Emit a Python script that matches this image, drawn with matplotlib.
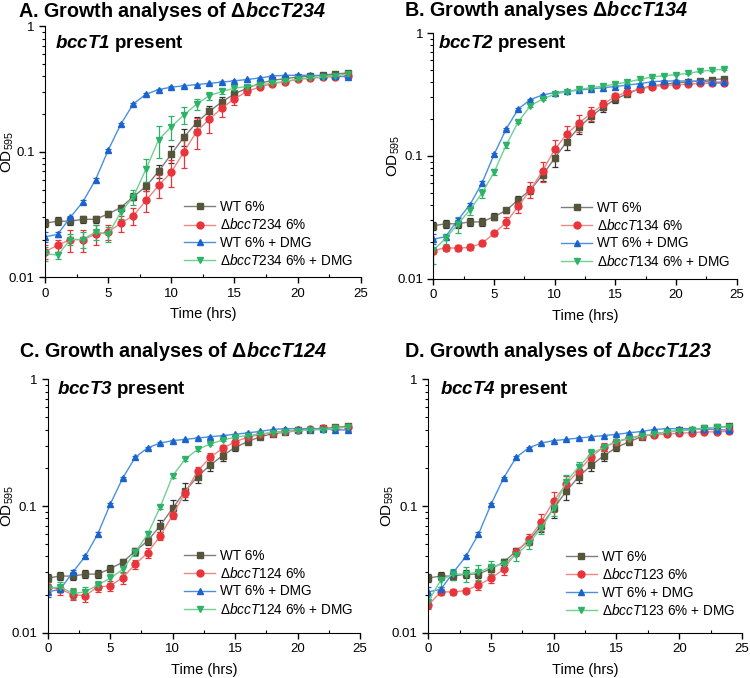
import matplotlib
matplotlib.use("Agg")
import matplotlib.pyplot as plt
from matplotlib import ticker

plt.rcParams["font.family"] = "Liberation Sans"
plt.rcParams["mathtext.fontset"] = "custom"
plt.rcParams["mathtext.rm"] = "Liberation Sans"
plt.rcParams["mathtext.it"] = "Liberation Sans:italic"
plt.rcParams["mathtext.bf"] = "Liberation Sans:bold"
plt.rcParams["mathtext.bfit"] = "Liberation Sans:italic:bold"

hours = list(range(25))

# controls (same in every panel)
wt = [0.027, 0.028, 0.028, 0.029, 0.029, 0.032, 0.036, 0.044, 0.053, 0.070, 0.096, 0.131, 0.171,
      0.210, 0.250, 0.290, 0.322, 0.352, 0.372, 0.383, 0.395, 0.400, 0.410, 0.418, 0.426]
wt_err = [0.002, 0.002, 0.002, 0.002, 0.002, 0.002, 0.002, 0.003, 0.004, 0.008, 0.015, 0.02, 0.02,
          0.022, 0.022, 0.02, 0.015, 0.01, 0.01, 0.01, 0.01, 0.01, 0.01, 0.01, 0.01]
wt_dmg = [0.021, 0.022, 0.030, 0.040, 0.060, 0.103, 0.166, 0.242, 0.288, 0.314, 0.328, 0.336, 0.344,
          0.352, 0.360, 0.368, 0.378, 0.388, 0.402, 0.408, 0.408, 0.408, 0.405, 0.400, 0.398]
wt_dmg_err = [0.002, 0.001, 0.001, 0.001, 0.002, 0.003, 0.004, 0.005, 0.005, 0.005, 0.005, 0.005, 0.005,
              0.005, 0.005, 0.005, 0.005, 0.005, 0.005, 0.005, 0.005, 0.005, 0.005, 0.005, 0.005]

# A: delta bccT234
d234 = [0.016, 0.018, 0.020, 0.020, 0.022, 0.023, 0.027, 0.031, 0.041, 0.054, 0.069, 0.100, 0.145,
        0.182, 0.223, 0.265, 0.303, 0.330, 0.350, 0.362, 0.378, 0.388, 0.392, 0.398, 0.402]
d234_err = [0.002, 0.002, 0.004, 0.004, 0.004, 0.003, 0.004, 0.005, 0.008, 0.011, 0.017, 0.025, 0.04,
            0.04, 0.035, 0.03, 0.02, 0.015, 0.01, 0.01, 0.01, 0.01, 0.01, 0.01, 0.01]
d234_dmg = [0.0155, 0.015, 0.020, 0.020, 0.023, 0.022, 0.033, 0.044, 0.073, 0.125, 0.159, 0.197, 0.240,
            0.280, 0.303, 0.322, 0.332, 0.342, 0.352, 0.365, 0.378, 0.388, 0.395, 0.405, 0.418]
d234_dmg_err = [0.002, 0.001, 0.002, 0.003, 0.003, 0.003, 0.004, 0.006, 0.015, 0.035, 0.035, 0.03, 0.025,
                0.02, 0.015, 0.01, 0.01, 0.01, 0.01, 0.01, 0.01, 0.01, 0.01, 0.01, 0.01]

# B: delta bccT134
d134 = [0.0169, 0.0179, 0.0177, 0.018, 0.0194, 0.0234, 0.0288, 0.039, 0.053, 0.0755, 0.113, 0.151, 0.186,
        0.222, 0.263, 0.307, 0.330, 0.350, 0.368, 0.375, 0.380, 0.385, 0.390, 0.390, 0.392]
d134_err = [0.001, 0.001, 0.001, 0.001, 0.001, 0.001, 0.003, 0.005, 0.008, 0.014, 0.022, 0.025, 0.03,
            0.03, 0.025, 0.02, 0.01, 0.01, 0.01, 0.01, 0.01, 0.01, 0.01, 0.01, 0.01]
d134_dmg = [0.0171, 0.0213, 0.0277, 0.0363, 0.0497, 0.0736, 0.123, 0.190, 0.257, 0.291, 0.318, 0.334, 0.349,
            0.360, 0.370, 0.385, 0.400, 0.420, 0.440, 0.450, 0.460, 0.470, 0.490, 0.500, 0.510]
d134_dmg_err = [0.004, 0.002, 0.004, 0.003, 0.004, 0.004, 0.006, 0.006, 0.006, 0.006, 0.006, 0.006, 0.006,
                0.006, 0.006, 0.006, 0.006, 0.006, 0.006, 0.006, 0.006, 0.006, 0.006, 0.006, 0.006]

# C: delta bccT124
d124 = [0.023, 0.022, 0.020, 0.0196, 0.023, 0.0234, 0.0272, 0.0346, 0.0428, 0.058, 0.085, 0.127, 0.189,
        0.242, 0.285, 0.322, 0.349, 0.368, 0.380, 0.390, 0.398, 0.405, 0.410, 0.415, 0.420]
d124_err = [0.002, 0.002, 0.002, 0.002, 0.002, 0.002, 0.003, 0.003, 0.004, 0.004, 0.006, 0.01, 0.015,
            0.02, 0.02, 0.02, 0.015, 0.01, 0.01, 0.01, 0.01, 0.01, 0.01, 0.01, 0.01]
d124_dmg = [0.0224, 0.023, 0.0204, 0.021, 0.0238, 0.0269, 0.0316, 0.043, 0.060, 0.098, 0.173, 0.234, 0.280,
            0.308, 0.332, 0.349, 0.360, 0.370, 0.380, 0.385, 0.390, 0.400, 0.400, 0.410, 0.420]
d124_dmg_err = [0.002, 0.002, 0.002, 0.002, 0.002, 0.002, 0.002, 0.003, 0.003, 0.004, 0.006, 0.006, 0.006,
                0.006, 0.006, 0.006, 0.006, 0.006, 0.006, 0.006, 0.006, 0.006, 0.006, 0.006, 0.006]

# D: delta bccT123
d123 = [0.0165, 0.021, 0.021, 0.0215, 0.0238, 0.0269, 0.0316, 0.043, 0.0546, 0.075, 0.110, 0.149, 0.190,
        0.245, 0.294, 0.322, 0.345, 0.360, 0.365, 0.370, 0.375, 0.380, 0.385, 0.385, 0.390]
d123_err = [0.001, 0.001, 0.001, 0.001, 0.002, 0.002, 0.003, 0.003, 0.005, 0.012, 0.02, 0.025, 0.025,
            0.02, 0.02, 0.015, 0.01, 0.01, 0.01, 0.01, 0.01, 0.01, 0.01, 0.01, 0.01]
d123_dmg = [0.0176, 0.026, 0.029, 0.029, 0.030, 0.033, 0.035, 0.041, 0.0508, 0.0667, 0.096, 0.156, 0.204,
            0.260, 0.290, 0.322, 0.340, 0.357, 0.370, 0.385, 0.390, 0.400, 0.410, 0.420, 0.420]
d123_dmg_err = [0.002, 0.003, 0.003, 0.004, 0.004, 0.004, 0.003, 0.004, 0.005, 0.007, 0.012, 0.02, 0.02,
                0.02, 0.015, 0.01, 0.01, 0.01, 0.01, 0.01, 0.01, 0.01, 0.01, 0.01, 0.01]

# line colour, marker colour, error bar colour, marker
styles = [
    ('#7d7d7d', '#56553a', '#333333', 's'),
    ('#f08585', '#e8353c', '#e8353c', 'o'),
    ('#4a90e2', '#1b63cc', '#1b63cc', '^'),
    ('#72d093', '#2db368', '#2db368', 'v'),
]


def growth_panel(fig, rect, mutant, mut, mut_err, mut_dmg, mut_dmg_err, legend_xy, ylabel_x):
    ax = fig.add_axes(rect)
    series = [(wt, wt_err, 'WT 6%'),
              (mut, mut_err, 'Δ$\\mathit{' + mutant + '}$ 6%'),
              (wt_dmg, wt_dmg_err, 'WT 6% + DMG'),
              (mut_dmg, mut_dmg_err, 'Δ$\\mathit{' + mutant + '}$ 6% + DMG')]
    handles = []
    labels = []
    for (vals, err, label), (lc, mc, ec, mk) in zip(series, styles):
        c = ax.errorbar(hours, vals, yerr=err, color=lc, marker=mk, ms=5, mfc=mc, mec=mc, lw=1,
                        ecolor=ec, elinewidth=0.9, capsize=2, capthick=0.9)
        handles.append(c[0])
        labels.append(label)

    ax.set_yscale('log')
    ax.set_ylim(0.01, 1)
    ax.set_xlim(0, 25)
    ax.xaxis.set_major_locator(ticker.MultipleLocator(5))
    ax.xaxis.set_minor_locator(ticker.MultipleLocator(2.5))
    ax.yaxis.set_major_locator(ticker.FixedLocator([0.01, 0.1, 1]))
    ax.yaxis.set_major_formatter(ticker.FixedFormatter(['0.01', '0.1', '1']))
    ax.spines['top'].set_visible(False)
    ax.spines['right'].set_visible(False)
    ax.tick_params(labelsize=9.5, length=4, width=1)
    ax.tick_params(which='minor', length=2.5, width=0.8)
    ax.tick_params(axis='x', which='minor', direction='in')
    ax.set_xlabel('Time (hrs)', fontsize=10.5, labelpad=5.5)
    ax.set_ylabel('OD$_{595}$', fontsize=11)
    ax.yaxis.set_label_coords(ylabel_x, 0.5)

    ax.legend(handles, labels, loc='upper left', bbox_to_anchor=legend_xy, bbox_transform=fig.transFigure,
              frameon=False, fontsize=9.8, borderpad=0, borderaxespad=0, handlelength=2.3,
              handletextpad=0.35, labelspacing=0.25)
    return ax


fig = plt.figure(figsize=(7.5, 6.78), dpi=100)

growth_panel(fig, [0.060, 0.591, 0.421, 0.370], 'bccT234', d234, d234_err, d234_dmg, d234_dmg_err,
             (0.2453, 0.705), -0.093)
growth_panel(fig, [0.578, 0.589, 0.404, 0.362], 'bccT134', d134, d134_err, d134_dmg, d134_dmg_err,
             (0.748, 0.704), -0.104)
growth_panel(fig, [0.0636, 0.0668, 0.4164, 0.3737], 'bccT124', d124, d124_err, d124_dmg, d124_dmg_err,
             (0.2453, 0.191), -0.1)
growth_panel(fig, [0.571, 0.0668, 0.4183, 0.3737], 'bccT123', d123, d123_err, d123_dmg, d123_dmg_err,
             (0.7543, 0.189), -0.104)

# panel titles
fig.text(0.024, 0.9754, 'A. Growth analyses of Δ$\\mathbfit{bccT234}$', fontsize=14.2, fontweight='bold')
fig.text(0.539, 0.9760, 'B. Growth analyses Δ$\\mathbfit{bccT134}$', fontsize=14.2, fontweight='bold')
fig.text(0.025, 0.474, 'C. Growth analyses of Δ$\\mathbfit{bccT124}$', fontsize=14.2, fontweight='bold')
fig.text(0.539, 0.473, 'D. Growth analyses of Δ$\\mathbfit{bccT123}$', fontsize=14.2, fontweight='bold')

fig.text(0.0733, 0.9297, '$\\mathbfit{bccT1}$ present', fontsize=13.5, fontweight='bold')
fig.text(0.5844, 0.9297, '$\\mathbfit{bccT2}$ present', fontsize=13.5, fontweight='bold')
fig.text(0.0756, 0.4184, '$\\mathbfit{bccT3}$ present', fontsize=13.5, fontweight='bold')
fig.text(0.5867, 0.4189, '$\\mathbfit{bccT4}$ present', fontsize=13.5, fontweight='bold')

plt.savefig('out.png', dpi=100)
